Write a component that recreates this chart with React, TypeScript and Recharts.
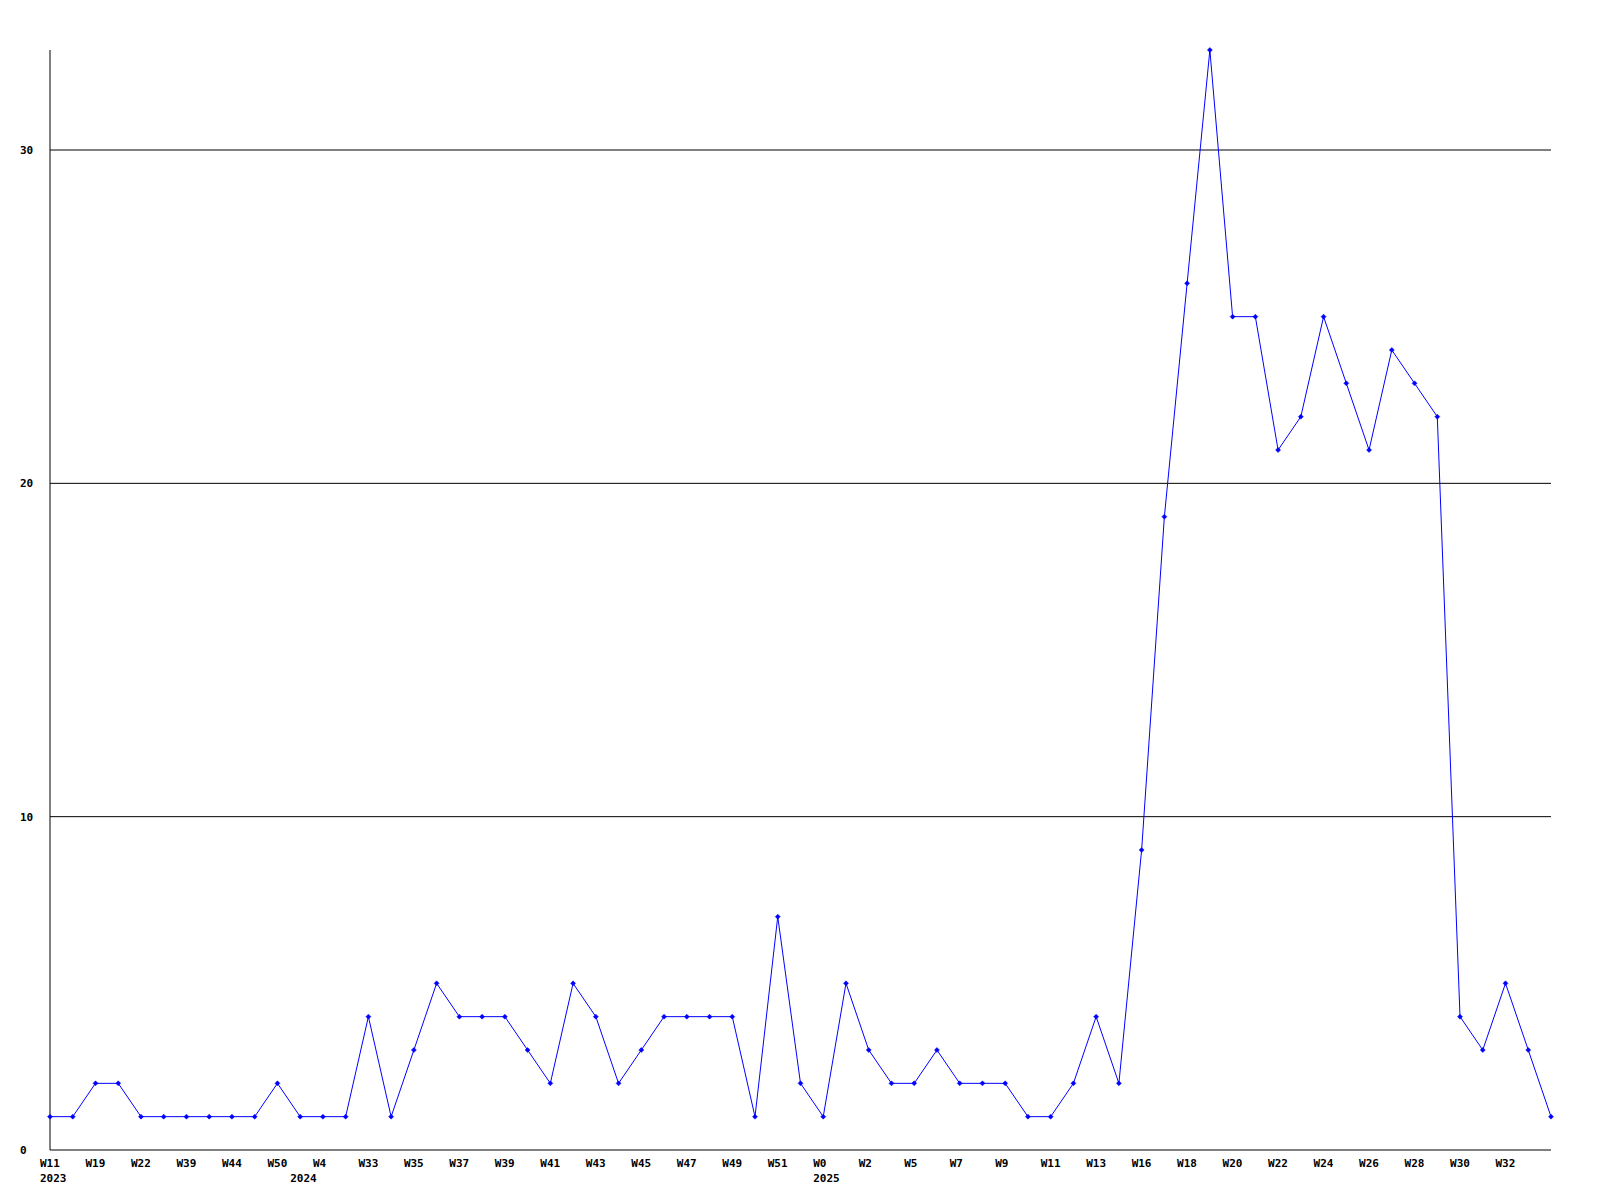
import React from 'react';
import { LineChart, Line, XAxis, YAxis, CartesianGrid } from 'recharts';

const weeks = [
  'W11', 'W12', 'W19', 'W20', 'W22', 'W23', 'W39', 'W40', 'W44', 'W45',
  'W50', 'W1', 'W4', 'W5', 'W33', 'W34', 'W35', 'W36', 'W37', 'W38',
  'W39', 'W40', 'W41', 'W42', 'W43', 'W44', 'W45', 'W46', 'W47', 'W48',
  'W49', 'W50', 'W51', 'W52', 'W0', 'W1', 'W2', 'W3', 'W5', 'W6',
  'W7', 'W8', 'W9', 'W10', 'W11', 'W12', 'W13', 'W14', 'W16', 'W17',
  'W18', 'W19', 'W20', 'W21', 'W22', 'W23', 'W24', 'W25', 'W26', 'W27',
  'W28', 'W29', 'W30', 'W31', 'W32', 'W33', 'W34',
];

// year label sits under the first week of each year
const years: Record<number, string> = { 0: '2023', 11: '2024', 34: '2025' };

const counts = [
  1, 1, 2, 2, 1, 1, 1, 1, 1, 1,
  2, 1, 1, 1, 4, 1, 3, 5, 4, 4,
  4, 3, 2, 5, 4, 2, 3, 4, 4, 4,
  4, 1, 7, 2, 1, 5, 3, 2, 2, 3,
  2, 2, 2, 1, 1, 2, 4, 2, 9, 19,
  26, 33, 25, 25, 21, 22, 25, 23, 21, 24,
  23, 22, 4, 3, 5, 3, 1,
];

const yTicks = [0, 10, 20, 30];
const gridValues = [10, 20, 30];

const data = weeks.map((w, i) => ({ idx: i, week: w, value: counts[i] }));

const FONT = '"DejaVu Sans Mono", "Liberation Mono", monospace';

const WeekTick = (props: any) => {
  const { x, y, payload } = props;
  const i = payload.value as number;
  const year = years[i];
  const showWeek = i % 2 === 0 && i < weeks.length - 1;
  return (
    <g>
      {showWeek && (
        <text x={x - 10} y={y} dy={9} textAnchor="start" fontFamily={FONT} fontWeight="bold" fontSize={11} fill="#000">
          {weeks[i]}
        </text>
      )}
      {year && (
        <text x={x - 10} y={y} dy={24} textAnchor="start" fontFamily={FONT} fontWeight="bold" fontSize={11} fill="#000">
          {year}
        </text>
      )}
    </g>
  );
};

const CountTick = (props: any) => {
  const { y, payload } = props;
  return (
    <text x={20} y={y} dy={4} textAnchor="start" fontFamily={FONT} fontWeight="bold" fontSize={11} fill="#000">
      {payload.value}
    </text>
  );
};

const Marker = (props: any) => {
  const { cx, cy } = props;
  if (cx == null || cy == null) return null;
  const r = 2.5;
  return (
    <path
      d={`M${cx},${cy - r}L${cx + r},${cy}L${cx},${cy + r}L${cx - r},${cy}Z`}
      fill="#0000ff"
      stroke="#0000ff"
      strokeWidth={0.5}
    />
  );
};

export default function App() {
  return (
    <div style={{ position: 'absolute', left: 0, top: 0, width: 1600, height: 1200, background: '#fff' }}>
      <LineChart
        width={1600}
        height={1200}
        data={data}
        margin={{ top: 50, right: 49, left: 0, bottom: 0 }}
      >
        <CartesianGrid vertical={false} horizontalValues={gridValues} stroke="#000" strokeWidth={1} />
        <XAxis
          dataKey="idx"
          type="category"
          interval={0}
          height={50}
          tickLine={false}
          axisLine={{ stroke: '#000', strokeWidth: 1 }}
          tick={<WeekTick />}
        />
        <YAxis
          domain={[0, 33]}
          ticks={yTicks}
          width={50}
          tickLine={false}
          axisLine={{ stroke: '#000', strokeWidth: 1 }}
          tick={<CountTick />}
        />
        <Line
          type="linear"
          dataKey="value"
          stroke="#0000ff"
          strokeWidth={1}
          dot={<Marker />}
          activeDot={false}
          isAnimationActive={false}
        />
      </LineChart>
    </div>
  );
}
